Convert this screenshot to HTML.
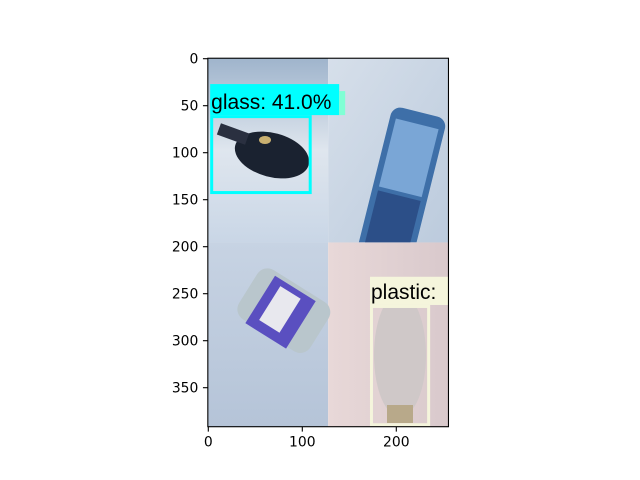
<!DOCTYPE html>
<html><head><meta charset="utf-8"><style>
body{margin:0;background:#fff;}
svg{display:block;font-family:"DejaVu Sans","Liberation Sans",sans-serif;}
</style></head><body>
<svg width="640" height="480" viewBox="0 0 640 480">
<defs>
<linearGradient id="tl" x1="0" y1="0" x2="0" y2="1"><stop offset="0" stop-color="#9fb4cc"/><stop offset="0.5" stop-color="#dfe6ee"/><stop offset="1" stop-color="#c9d6e6"/></linearGradient>
<linearGradient id="tr" x1="0" y1="0" x2="1" y2="1"><stop offset="0" stop-color="#d6dfea"/><stop offset="1" stop-color="#bccbdd"/></linearGradient>
<linearGradient id="bl" x1="0" y1="0" x2="0" y2="1"><stop offset="0" stop-color="#c7d3e3"/><stop offset="1" stop-color="#b5c4d8"/></linearGradient>
<linearGradient id="br" x1="0" y1="0" x2="1" y2="0"><stop offset="0" stop-color="#e8d8d8"/><stop offset="1" stop-color="#d9c9cc"/></linearGradient>
<clipPath id="trc"><rect x="328.2" y="58" width="120.5" height="184.2"/></clipPath>
</defs>
<g id="img"></g>
<g id="axes"></g>
</svg>
<script>
const xTicks=[0,100,200];
const yTicks=[0,50,100,150,200,250,300,350];
const imgW=256, imgH=392;
const boxLabels=["glass: 41.0%","plastic:"];
const boxX0=[2,172], boxY0=[60,262], boxX1=[110,236], boxY1=[144,391];
const labelY0=[27,232];
const NS="http://www.w3.org/2000/svg";
const S=0.94, OX=208.3, OY=58.7;
const sx=v=>OX+v*S, sy=v=>OY+v*S;
function mk(t,a,p){const e=document.createElementNS(NS,t);for(const k in a)e.setAttribute(k,a[k]);p.appendChild(e);return e;}
const img=document.getElementById('img'), ax=document.getElementById('axes');
const L=sx(-0.5),T=sy(-0.5),R=sx(imgW-0.5),B=sy(imgH-0.5);
const mx=sx(127.5), my=sy(195.5);
let q;
q=mk('rect',{x:L,y:T,width:mx-L,height:my-T,fill:'url(#tl)'},img);
q=mk('rect',{x:mx,y:T,width:R-mx,height:my-T,fill:'url(#tr)'},img);
q=mk('rect',{x:L,y:my,width:mx-L,height:B-my,fill:'url(#bl)'},img);
q=mk('rect',{x:mx,y:my,width:R-mx,height:B-my,fill:'url(#br)'},img);
// objects (decorative)
mk('ellipse',{cx:272,cy:155,rx:38,ry:22,fill:'#1a2230',transform:'rotate(15 272 155)'},img);
mk('rect',{x:218,y:128,width:30,height:12,fill:'#2a3040',transform:'rotate(20 233 134)'},img);
mk('ellipse',{cx:265,cy:140,rx:6,ry:4,fill:'#c9b070'},img);
const can=mk('g',{'clip-path':'url(#trc)'},img);
mk('rect',{x:374,y:110,width:56,height:150,rx:10,fill:'#3e6fa8',transform:'rotate(14 402 185)'},can);
mk('rect',{x:380,y:122,width:44,height:70,fill:'#7aa6d6',transform:'rotate(14 402 185)'},can);
mk('rect',{x:380,y:196,width:44,height:60,fill:'#2c4f88',transform:'rotate(14 402 185)'},can);
mk('rect',{x:236,y:280,width:84,height:58,rx:12,fill:'#b9c6cc',transform:'rotate(32 278 320)'},img);
mk('rect',{x:252,y:284,width:48,height:56,fill:'#5a4fc0',transform:'rotate(32 278 320)'},img);
mk('rect',{x:262,y:290,width:24,height:40,fill:'#e8e8ee',transform:'rotate(32 278 320)'},img);
mk('ellipse',{cx:400,cy:355,rx:26,ry:62,fill:'#cfc8c8'},img);
mk('rect',{x:387,y:405,width:26,height:18,fill:'#b8a98a'},img);
// boxes
const cols=['#00ffff','#f5f5dc'];
for(let i=0;i<boxLabels.length;i++){
  const g=mk('g',{},img);
  
  
  const lr=mk('rect',{x:sx(boxX0[i]),y:sy(labelY0[i]),width:(i===0?129:79),height:sy(boxY0[i])-sy(labelY0[i]),fill:cols[i]},g);
  
  
  if(i===0){mk('rect',{x:sx(boxX0[i])+129,y:sy(labelY0[i])+7,width:6,height:sy(boxY0[i])-sy(labelY0[i])-7,fill:'#7fffd4'},g);}
  const bx=mk('rect',{x:sx(boxX0[i])+1.5,y:sy(boxY0[i])+1.5,width:sx(boxX1[i])-sx(boxX0[i])-3,height:sy(boxY1[i])-sy(boxY0[i])-3,fill:'none',stroke:cols[i],'stroke-width':3},g);
  
  
  const t=mk('text',{x:sx(boxX0[i])+1,y:sy(boxY0[i])-6,'font-size':21,fill:'#000','font-family':'Liberation Sans, sans-serif'},g);
  t.textContent=boxLabels[i];
  
  
}
// frame
const fr=mk('rect',{x:L,y:T,width:R-L,height:B-T,fill:'none',stroke:'#000','stroke-width':1.1},ax);


xTicks.forEach(v=>{
  mk('line',{x1:sx(v),x2:sx(v),y1:B,y2:B+4.9,stroke:'#000','stroke-width':1.1},ax);
  const t=mk('text',{x:sx(v),y:B+20,'font-size':13.9,'text-anchor':'middle',fill:'#000'},ax);
  t.textContent=v;
  
  
});
yTicks.forEach(v=>{
  mk('line',{x1:L,x2:L-4.9,y1:sy(v),y2:sy(v),stroke:'#000','stroke-width':1.1},ax);
  const t=mk('text',{x:L-9.5,y:sy(v)+5,'font-size':13.9,'text-anchor':'end',fill:'#000'},ax);
  t.textContent=v;
  
  
});
</script>
</body></html>
